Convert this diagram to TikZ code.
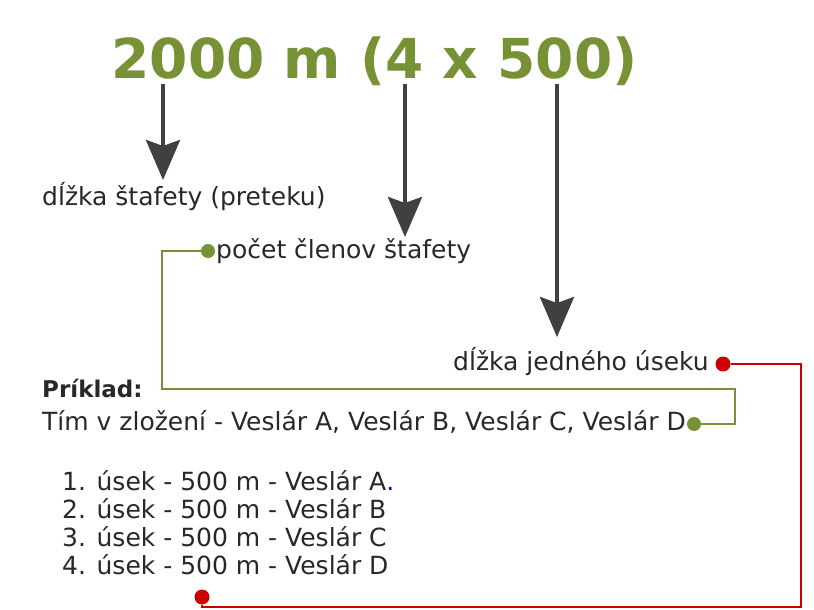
\documentclass[tikz,border=0pt]{standalone}
\usepackage{fontspec}
\setmainfont{DejaVu Sans}
\usetikzlibrary{arrows.meta}
\definecolor{titlegreen}{RGB}{118,146,52}
\definecolor{linegreen}{RGB}{118,146,52}
\definecolor{linered}{RGB}{204,0,0}
\definecolor{arrowgray}{RGB}{64,64,64}
\definecolor{txtgray}{RGB}{40,40,40}
\tikzset{
  lbl/.style={anchor=base west, inner sep=0pt, text=txtgray, font=\fontsize{25}{28}\selectfont},
  bigarrow/.style={draw=arrowgray, line width=4pt, -{Stealth[length=40pt,width=34pt,inset=6pt]}},
  gline/.style={draw=linegreen, line width=2pt},
  rline/.style={draw=linered, line width=2pt},
  gdot/.style={circle, fill=linegreen, inner sep=0pt, minimum size=14pt},
  rdot/.style={circle, fill=linered, inner sep=0pt, minimum size=15pt},
}
\begin{document}
\begin{tikzpicture}[x=1pt,y=-1pt]
\useasboundingbox (0,0) rectangle (814,610);
\fill[white] (0,0) rectangle (814,610);
% title
\node[anchor=base, inner sep=0pt, text=titlegreen, font=\fontsize{55}{60}\bfseries\selectfont] (title) at (374.5,78) {2000 m (4 x 500)};
% labels
\node[lbl] (len) at (42,205) {dĺžka štafety (preteku)};
\node[lbl] (cnt) at (216,258) {počet členov štafety};
\node[lbl] (seg) at (453,370) {dĺžka jedného úseku};
\node[lbl, font=\fontsize{23}{28}\bfseries\selectfont] (ex) at (42,397) {Príklad:};
\node[lbl] (team) at (42,430) {Tím v zložení - Veslár A, Veslár B, Veslár C, Veslár D};
\node[lbl] (l1) at (62,490) {1. úsek - 500 m - Veslár A\textcolor{blue}{.}};
\node[lbl] (l2) at (62,518) {2. úsek - 500 m - Veslár B};
\node[lbl] (l3) at (62,546) {3. úsek - 500 m - Veslár C};
\node[lbl] (l4) at (62,574) {4. úsek - 500 m - Veslár D};
% arrows
\coordinate (a1s) at (163,84); \coordinate (a1e) at (163,180);
\coordinate (a2s) at (405,84); \coordinate (a2e) at (405,237);
\coordinate (a3s) at (557,84); \coordinate (a3e) at (557,337);
\draw[bigarrow] (a1s) -- (a1e);
\draw[bigarrow] (a2s) -- (a2e);
\draw[bigarrow] (a3s) -- (a3e);
% green connector
\node[gdot] (gd1) at (208,251) {};
\node[gdot] (gd2) at (694,424) {};
\coordinate (g1) at (162,389);
\coordinate (g2) at (735,389);
\draw[gline] (gd1) -| (g1) -- (g2) |- (gd2);
% red connector
\node[rdot] (rd1) at (723,364) {};
\node[rdot] (rd2) at (202,597) {};
\coordinate (r1) at (801,607);
\draw[rline] (rd1) -| (r1) -| (rd2);
\end{tikzpicture}
\end{document}
